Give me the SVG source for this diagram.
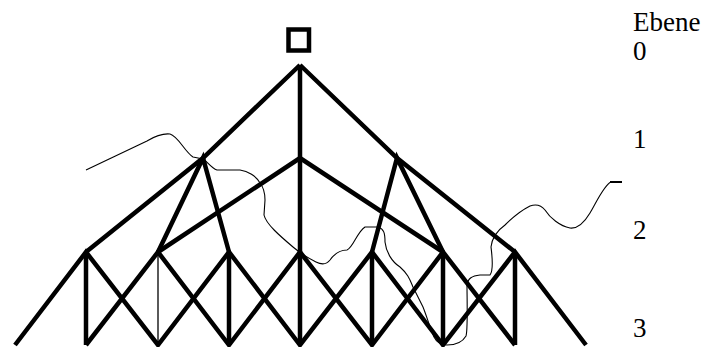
<svg xmlns="http://www.w3.org/2000/svg" width="706" height="347" viewBox="0 0 706 347">
<style>
.e{stroke:#000;stroke-width:4.5;fill:none;stroke-linejoin:miter;stroke-linecap:butt}
.t{stroke:#000;stroke-width:1.3;fill:none}
.c{stroke:#000;stroke-width:1.1;fill:none;stroke-linejoin:round}
.lbl{font-family:"Liberation Serif","Times New Roman",serif;font-size:27px;fill:#000}
</style>
<rect width="706" height="347" fill="#fff"/>
<g id="node-root">
<rect x="288.5" y="29.5" width="20.5" height="21" fill="none" stroke="#000" stroke-width="4.5"/>
</g>
<g id="connectors">
<polyline class="e" points="300,65 203,158 86,252"/>
<polyline class="e" points="300,65 397,158 515,252"/>
<line class="e" x1="300" y1="65" x2="300" y2="252"/>
<polyline class="e" points="158,252 300,158 443,252"/>
<polyline class="e" points="158,252 203,158 229,252"/>
<polyline class="e" points="372,252 397,158 443,252"/>
<polyline class="e" points="15,345 86,252 158,345 229,252 300,345 372,252 443,345 515,252 586,345"/>
<polyline class="e" points="86,345 158,252 229,345 300,252 372,345 443,252 515,345"/>
<line class="e" x1="86" y1="252" x2="86" y2="345"/>
<line class="t" x1="158" y1="252" x2="158" y2="345"/>
<line class="e" x1="229" y1="252" x2="229" y2="345"/>
<line class="e" x1="300" y1="252" x2="300" y2="345"/>
<line class="e" x1="372" y1="252" x2="372" y2="345"/>
<line class="e" x1="443" y1="252" x2="443" y2="345"/>
<line class="e" x1="515" y1="252" x2="515" y2="345"/>
<path class="c" d="M86,170 L147,141 C152,138 160,133 170,134 C178,136 185,152 193,157 L203,159 C207,161 211,168 217,170 L240,170 C248,171 256,176 260,183 C264,188 265,195 265,200 L264,215 C266,224 280,236 293,247 C300,253 308,258 316,262 C322,265 327,264 330,260 C335,253 340,250 347,250 C353,248 357,232 365,227 L378,227 C384,229 385,233 385,242 C386,252 392,262 400,267 C408,274 410,280 413,287 L423,307 C427,317 430,328 434,337 C437,343 441,345 447,345 C455,345 462,343 466,336 C468,330 467,300 467,285 C468,278 472,276 480,275 L490,275 C494,270 492,255 491,247 C492,238 498,230 505,225 C512,218 522,210 530,206 C536,204 541,205 545,210 C550,218 560,226 570,228 C578,229 584,223 590,213 C596,203 604,185 611,182"/>
<line x1="610" y1="182" x2="622" y2="182" stroke="#000" stroke-width="2"/>
</g>
<g id="labels">
<text class="lbl" x="633" y="31">Ebene</text>
<text class="lbl" x="633" y="60">0</text>
<text class="lbl" x="633" y="148">1</text>
<text class="lbl" x="633" y="239">2</text>
<text class="lbl" x="633" y="337">3</text>
</g>
</svg>
